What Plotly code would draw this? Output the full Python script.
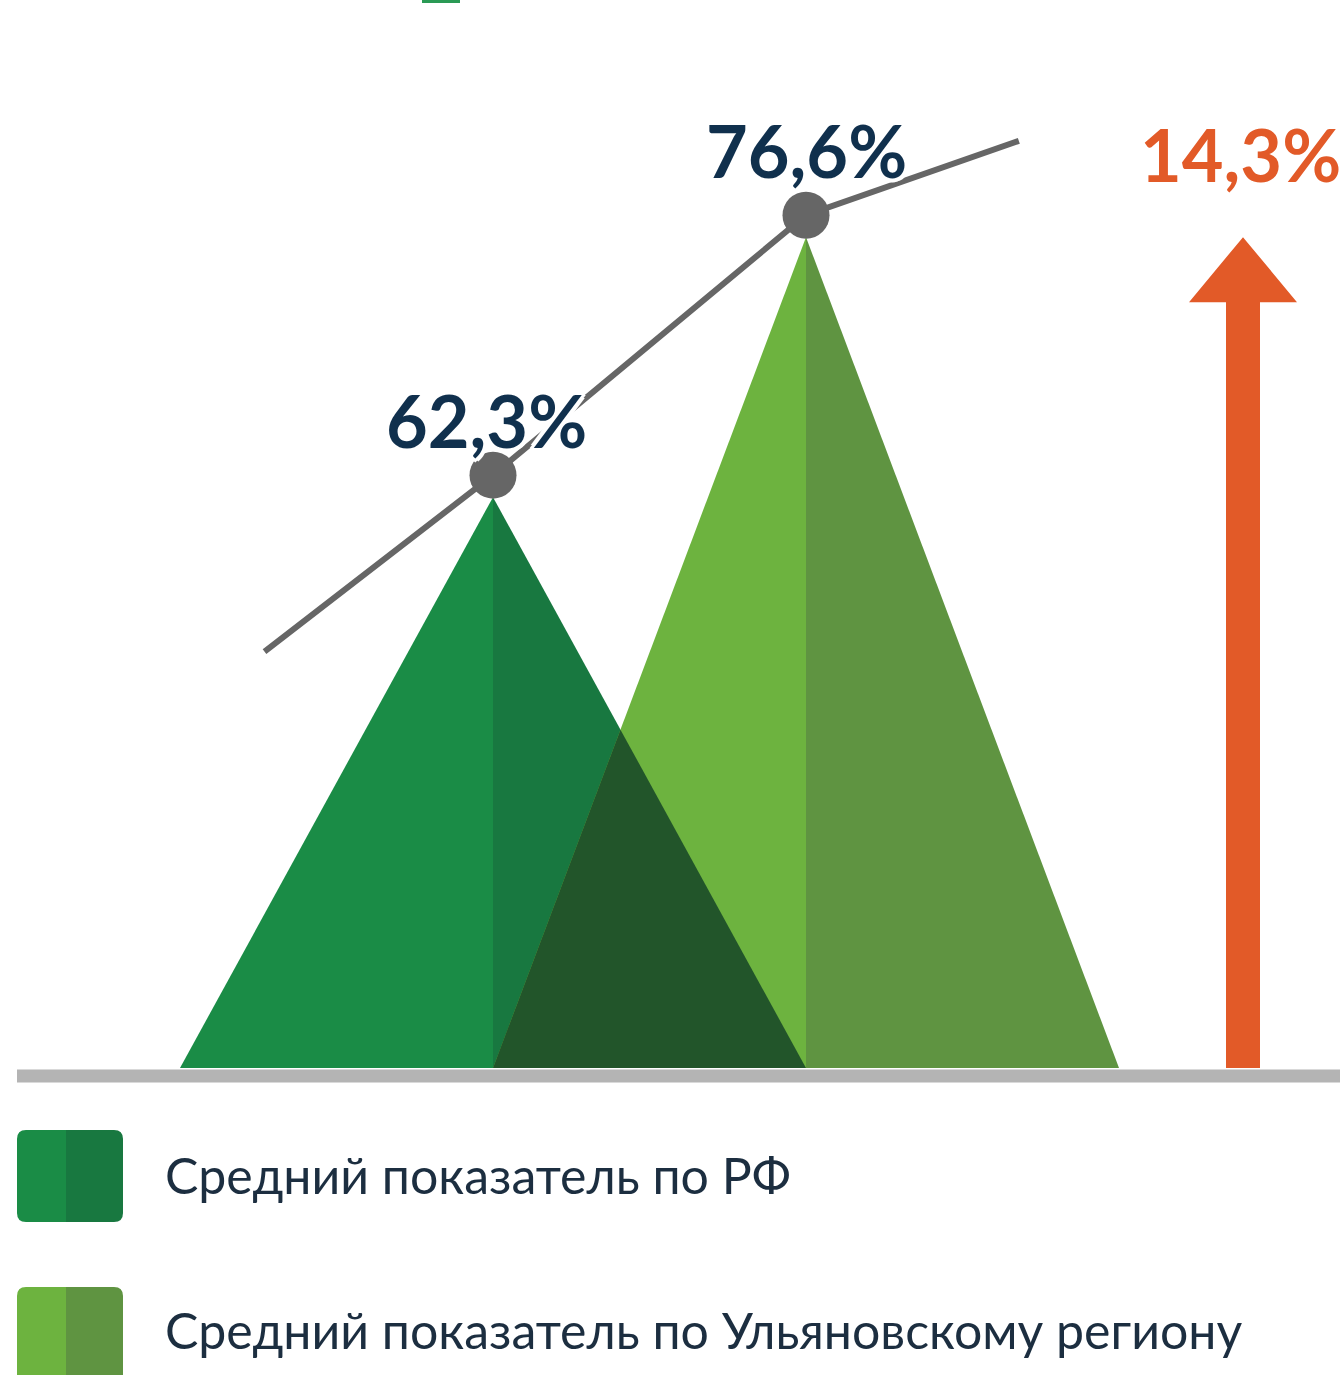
import plotly.graph_objects as go

# ---------------- data ----------------
categories = ["Средний показатель по РФ", "Средний показатель по Ульяновскому региону"]
values = [62.3, 76.6]
value_labels = ["62,3%", "76,6%"]
diff_label = "14,3%"
trend_tail_x = [0.27, 2.68]      # decorative ends of the trend line
trend_tail_y = [53.8, 81.9]

# ---------------- layout constants ----------------
W, H = 1344, 1375
Y_FLOOR = 30.9          # truncated axis floor (baseline of the peaks)
PX_PER_PCT = 18.18
PX_PER_X = 313.0
X0_PX = 180.0
BASE_PX = 1068.0

x_range = [-X0_PX / PX_PER_X, (W - X0_PX) / PX_PER_X]
y_range = [Y_FLOOR - (H - BASE_PX) / PX_PER_PCT, Y_FLOOR + BASE_PX / PX_PER_PCT]

def px2x(px):
    return (px - X0_PX) / PX_PER_X

def px2y(py):
    return Y_FLOOR + (BASE_PX - py) / PX_PER_PCT

C_RF_L, C_RF_R = "#1a8c46", "#187840"
C_UL_L, C_UL_R = "#6db33f", "#5f9441"
C_OVER = "#22552a"
C_LINE = "#666666"
C_NAVY = "#10304d"
C_ORANGE = "#e25a28"

fig = go.Figure()

def poly(xs, ys, color):
    fig.add_trace(go.Scatter(x=xs + [xs[0]], y=ys + [ys[0]], mode="lines", fill="toself",
                             fillcolor=color, line=dict(width=0, color=color),
                             hoverinfo="skip", showlegend=False))

halves = [(C_RF_L, C_RF_R), (C_UL_L, C_UL_R)]
for i, v in enumerate(values):
    c = i + 1
    cl, cr = halves[i]
    poly([c - 1, c, c], [Y_FLOOR, v, Y_FLOOR], cl)
    poly([c, c, c + 1], [Y_FLOOR, v, Y_FLOOR], cr)

# overlap of the two peaks (intersection of the two inner edges)
a = values[0] - Y_FLOOR
b = values[1] - Y_FLOOR
t = a / (a + b)
poly([1, 1 + t, 2], [Y_FLOOR, Y_FLOOR + b * t, Y_FLOOR], C_OVER)

# trend line with dots sitting on the apexes
dot_off = 22 / PX_PER_PCT
line_x = [trend_tail_x[0], 1, 2, trend_tail_x[1]]
line_y = [trend_tail_y[0], values[0] + dot_off, values[1] + dot_off, trend_tail_y[1]]
fig.add_trace(go.Scatter(x=line_x, y=line_y, mode="lines", line=dict(color=C_LINE, width=6),
                         hoverinfo="skip", showlegend=False))
fig.add_trace(go.Scatter(x=[1, 2], y=[values[0] + dot_off, values[1] + dot_off], mode="markers",
                         marker=dict(size=47, color=C_LINE), hoverinfo="skip", showlegend=False))

# difference arrow
ax = px2x(1243)
sh = 17 / PX_PER_X
hh = 54 / PX_PER_X
head_h = 65 / PX_PER_PCT
tip = values[1]
poly([ax - sh, ax - sh, ax - hh, ax, ax + hh, ax + sh, ax + sh],
     [Y_FLOOR, tip - head_h, tip - head_h, tip, tip - head_h, tip - head_h, Y_FLOOR], C_ORANGE)

shapes = []
# baseline
shapes.append(dict(type="line", xref="x", yref="y", x0=px2x(17), x1=px2x(1340),
                   y0=px2y(1076), y1=px2y(1076), line=dict(color="#b4b4b4", width=13), layer="below"))
# top fragment
shapes.append(dict(type="rect", xref="x", yref="y", x0=px2x(422), x1=px2x(460),
                   y0=px2y(3), y1=px2y(-2), fillcolor="#2a9a55", line=dict(width=0)))

def rounded_half(x0, x1, y0, y1, r, side):
    X = px2x; Y = px2y
    if side == "left":
        return (f"M {X(x1)},{Y(y0)} L {X(x0 + r)},{Y(y0)} Q {X(x0)},{Y(y0)} {X(x0)},{Y(y0 + r)} "
                f"L {X(x0)},{Y(y1 - r)} Q {X(x0)},{Y(y1)} {X(x0 + r)},{Y(y1)} L {X(x1)},{Y(y1)} Z")
    return (f"M {X(x0)},{Y(y0)} L {X(x1 - r)},{Y(y0)} Q {X(x1)},{Y(y0)} {X(x1)},{Y(y0 + r)} "
            f"L {X(x1)},{Y(y1 - r)} Q {X(x1)},{Y(y1)} {X(x1 - r)},{Y(y1)} L {X(x0)},{Y(y1)} Z")

legend_rows = [(1130, 1222, 1175), (1287, 1385, 1330)]
annotations = []
for i, name in enumerate(categories):
    y0, y1, yc = legend_rows[i]
    cl, cr = halves[i]
    shapes.append(dict(type="path", xref="x", yref="y", path=rounded_half(17, 66, y0, y1, 9, "left"),
                       fillcolor=cl, line=dict(width=0)))
    shapes.append(dict(type="path", xref="x", yref="y", path=rounded_half(66, 123, y0, y1, 9, "right"),
                       fillcolor=cr, line=dict(width=0)))
    annotations.append(dict(x=px2x(163), y=px2y(yc), xref="x", yref="y", text=name, showarrow=False,
                            xanchor="left", yanchor="middle",
                            font=dict(family="Lato", size=50, color="#1c2e40")))

halo = "3px 3px 0 #fff, -3px -3px 0 #fff, 3px -3px 0 #fff, -3px 3px 0 #fff, 0 4px 0 #fff, 0 -4px 0 #fff, 4px 0 0 #fff, -4px 0 0 #fff"
label_shift = [(-7, 77), (0, 87)]
for i, v in enumerate(values):
    annotations.append(dict(x=i + 1, y=v, xref="x", yref="y", text=f"<b>{value_labels[i]}</b>",
                            showarrow=False, xanchor="center", yanchor="middle",
                            xshift=label_shift[i][0], yshift=label_shift[i][1],
                            font=dict(family="Lato", size=72, color=C_NAVY, shadow=halo)))
annotations.append(dict(x=ax, y=tip, xref="x", yref="y", text=f"<b>{diff_label}</b>", showarrow=False,
                        xanchor="center", yanchor="middle", xshift=-3, yshift=83,
                        font=dict(family="Lato", size=72, color=C_ORANGE)))

fig.update_layout(
    width=W, height=H, margin=dict(l=0, r=0, t=0, b=0),
    paper_bgcolor="#ffffff", plot_bgcolor="#ffffff",
    xaxis=dict(range=x_range, visible=False, fixedrange=True),
    yaxis=dict(range=y_range, visible=False, fixedrange=True),
    shapes=shapes, annotations=annotations, showlegend=False,
)

fig.write_html("out.html", config={"displayModeBar": False},
               post_script="document.body.style.margin='0';")
